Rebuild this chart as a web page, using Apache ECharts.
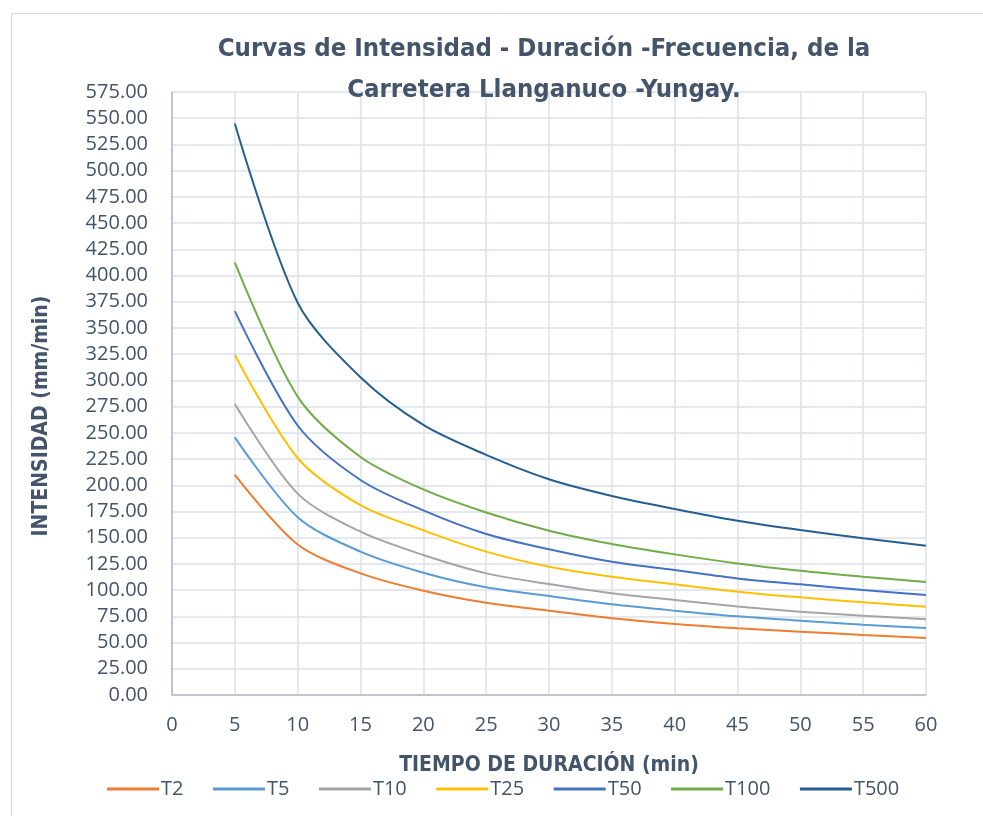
<!DOCTYPE html>
<html>
<head>
<meta charset="utf-8">
<script src="https://cdn.jsdelivr.net/npm/echarts@6/dist/echarts.min.js"></script>
<style>
  html, body { margin: 0; padding: 0; background: #fff; }
  #chart { width: 983px; height: 816px; }
</style>
</head>
<body>
<div id="chart"></div>
<script>
// Durations (min) and intensities (mm/min) per return period
const durations = [5, 10, 15, 20, 25, 30, 35, 40, 45, 50, 55, 60];
const T2   = [209.8, 143.5, 116.0, 99.5, 88.0, 80.4, 73.1, 67.7, 63.6, 60.4, 57.2, 54.4];
const T5   = [245.7, 169.5, 136.7, 116.6, 102.7, 94.4, 86.5, 80.4, 75.0, 70.9, 66.9, 63.9];
const T10  = [277.5, 192.0, 155.7, 133.5, 116.0, 105.8, 97.0, 90.6, 84.5, 79.5, 75.5, 72.2];
const T25  = [324.2, 226.0, 181.0, 157.0, 136.7, 122.3, 112.8, 105.5, 98.5, 93.1, 88.4, 84.2];
const T50  = [366.0, 257.0, 205.0, 176.0, 153.5, 138.9, 127.0, 119.2, 111.2, 105.5, 100.1, 95.4];
const T100 = [412.6, 284.5, 227.0, 196.0, 174.0, 156.7, 144.0, 134.1, 125.5, 118.5, 112.8, 107.7];
const T500 = [545.0, 374.0, 303.0, 257.5, 229.0, 205.7, 189.8, 177.4, 166.2, 157.3, 149.4, 142.4];

const seriesNames = ['T2', 'T5', 'T10', 'T25', 'T50', 'T100', 'T500'];
const seriesValues = [T2, T5, T10, T25, T50, T100, T500];
const seriesColors = ['#ED7D31', '#5B9BD5', '#A5A5A5', '#FFC000', '#4472C4', '#70AD47', '#255E91'];

const textColor = '#44546A';
const tickFont = "'Open Sans', sans-serif";
const titleFont = "'DejaVu Sans Condensed', 'Open Sans', sans-serif";

const chart = echarts.init(document.getElementById('chart'), null, { renderer: 'canvas' });

const series = seriesNames.map((name, i) => ({
  name: name,
  type: 'line',
  data: durations.map((d, j) => [d, seriesValues[i][j]]),
  symbol: 'none',
  smooth: 0.3,
  lineStyle: { color: seriesColors[i], width: 2 },
  itemStyle: { color: seriesColors[i] },
  z: 3
}));

chart.setOption({
  backgroundColor: '#ffffff',
  animation: false,
  graphic: [{
    type: 'rect',
    shape: { x: 11.5, y: 13.5, width: 1000, height: 900 },
    style: { fill: 'none', stroke: '#D9D9D9', lineWidth: 1 },
    silent: true,
    z: -1
  }, {
    type: 'text',
    x: 42,
    y: 416,
    rotation: Math.PI / 2,
    style: {
      text: 'INTENSIDAD (mm/min)',
      fontFamily: titleFont,
      fontWeight: 'bold',
      fontSize: 21,
      fill: textColor,
      align: 'center',
      verticalAlign: 'middle'
    },
    silent: true
  }],
  title: {
    text: 'Curvas de Intensidad - Duración -Frecuencia, de la\nCarretera Llanganuco -Yungay.',
    left: 539,
    top: 24,
    textAlign: 'center',
    textStyle: {
      fontFamily: titleFont,
      fontWeight: 'bold',
      fontSize: 25.5,
      lineHeight: 41,
      color: textColor
    }
  },
  legend: {
    data: seriesNames,
    left: 102,
    top: 774,
    icon: 'path://M0,0 L52,0 L52,3 L0,3 Z',
    itemWidth: 52,
    itemHeight: 3,
    itemGap: 29.5,
    textStyle: { fontFamily: tickFont, fontSize: 20, color: textColor, padding: [0, 0, 0, -3] }
  },
  grid: { left: 172, right: 57, top: 92, bottom: 121, containLabel: false },
  xAxis: {
    type: 'value',
    min: 0,
    max: 60,
    interval: 5,
    name: 'TIEMPO DE DURACIÓN (min)',
    nameLocation: 'middle',
    nameGap: 60,
    nameTextStyle: { fontFamily: titleFont, fontWeight: 'bold', fontSize: 21, color: textColor },
    axisLine: { show: true, lineStyle: { color: '#ADB9CA', width: 1.5 } },
    axisTick: { show: false },
    axisLabel: { fontFamily: tickFont, fontSize: 20, color: textColor, margin: 20 },
    splitLine: { show: true, lineStyle: { color: '#DDE2EA', width: 1.5 } }
  },
  yAxis: {
    type: 'value',
    min: 0,
    max: 575,
    interval: 25,
    axisLine: { show: true, lineStyle: { color: '#ADB9CA', width: 1.5 } },
    axisTick: { show: false },
    axisLabel: {
      fontFamily: tickFont, fontSize: 20, color: textColor, margin: 24,
      formatter: v => v.toFixed(2)
    },
    splitLine: { show: true, lineStyle: { color: '#DDE2EA', width: 1.5 } }
  },
  series: series
});
</script>
</body>
</html>
